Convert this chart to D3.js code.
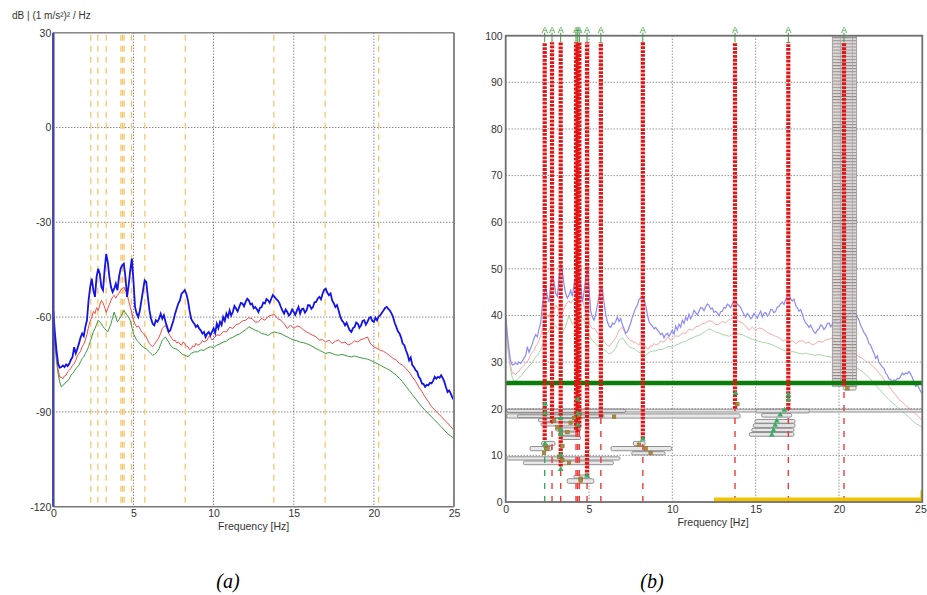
<!DOCTYPE html>
<html><head><meta charset="utf-8">
<script src="https://cdn.jsdelivr.net/npm/d3@7"></script>
<style>
body{margin:0;background:#fff;}
svg{display:block;font-family:"Liberation Sans",Arial,sans-serif;}
</style></head><body>
<svg id="c" width="927" height="595"></svg>
<script>
// ---- spectra: [frequency Hz, level dB] ----
const blueSpec = [[0,-58],[0.1,-65],[0.2,-70.5],[0.3,-74.7],[0.4,-76],[0.5,-75.8],[0.6,-75.3],[0.7,-75.8],[0.8,-75],[0.9,-75.5],[1.0,-74.7],[1.1,-73.5],[1.2,-72.6],[1.3,-69.5],[1.4,-71.5],[1.5,-70],[1.6,-68.4],[1.7,-66.5],[1.8,-65.2],[1.9,-66],[2.0,-63.1],[2.1,-61],[2.2,-54.7],[2.3,-50.5],[2.4,-47.8],[2.5,-51.5],[2.6,-53.6],[2.7,-47.3],[2.8,-44.7],[2.9,-46.3],[3.0,-50.5],[3.1,-51.5],[3.2,-45.2],[3.3,-40],[3.4,-42.6],[3.5,-47.3],[3.6,-50.5],[3.7,-52.1],[3.8,-51],[3.9,-49.4],[4.0,-51.5],[4.1,-47.3],[4.2,-44.7],[4.3,-43.6],[4.4,-43.1],[4.5,-47.3],[4.6,-53.6],[4.7,-50],[4.8,-45.2],[4.9,-41.5],[5.0,-48.4],[5.1,-56.8],[5.2,-58.9],[5.3,-60],[5.4,-57.9],[5.5,-54.7],[5.6,-51.5],[5.7,-48.4],[5.8,-48.9],[5.9,-53.6],[6.0,-57.9],[6.1,-60.5],[6.2,-62.1],[6.3,-62.6],[6.4,-61],[6.5,-61.5],[6.6,-60.5],[6.7,-58.9],[6.8,-60.5],[6.9,-59.4],[7.0,-61.5],[7.1,-63.1],[7.2,-64.7],[7.3,-64.2],[7.4,-62.6],[7.5,-61],[7.6,-58.9],[7.7,-57.3],[7.8,-55.7],[7.9,-54.7],[8.0,-52.6],[8.1,-52.1],[8.2,-51.5],[8.3,-52.6],[8.4,-54.7],[8.5,-57.9],[8.6,-60.5],[8.7,-61.5],[8.8,-62.1],[8.9,-63.1],[9.0,-62.6],[9.1,-63.6],[9.2,-64.2],[9.3,-65.2],[9.4,-64.7],[9.5,-66.3],[9.6,-65.2],[9.7,-64.7],[9.8,-65.8],[9.9,-64.7],[10.0,-63.6],[10.1,-65],[10.2,-62.1],[10.3,-63.5],[10.4,-61.5],[10.5,-62.5],[10.6,-60],[10.7,-61.2],[10.8,-58.9],[10.9,-60],[11.0,-57.9],[11.1,-59.5],[11.2,-58.4],[11.3,-56.5],[11.4,-57.3],[11.5,-58.2],[11.6,-56.8],[11.7,-55.5],[11.8,-55.7],[11.9,-56.6],[12.0,-55.2],[12.1,-54.2],[12.2,-54.7],[12.3,-56],[12.4,-55.7],[12.5,-57.2],[12.6,-56.8],[12.7,-57.5],[12.8,-58.4],[12.9,-57],[13.0,-56.8],[13.1,-55.4],[13.2,-55.7],[13.3,-54.3],[13.4,-54.7],[13.5,-55.5],[13.6,-54.2],[13.7,-53],[13.8,-53.6],[13.9,-54.2],[14.0,-54.7],[14.1,-55.5],[14.2,-56.8],[14.3,-58],[14.4,-58.9],[14.5,-57.6],[14.6,-58.4],[14.7,-59.5],[14.8,-58.9],[14.9,-57.6],[15.0,-58.4],[15.1,-59.3],[15.2,-57.9],[15.3,-56.8],[15.4,-58.9],[15.5,-57.5],[15.6,-57.3],[15.7,-58.6],[15.8,-57.9],[15.9,-56.2],[16.0,-56.3],[16.1,-57.4],[16.2,-56.8],[16.3,-55.3],[16.4,-55.2],[16.5,-54.1],[16.6,-53.6],[16.7,-54.4],[16.8,-52.6],[16.9,-51.4],[17.0,-51],[17.1,-52.3],[17.2,-53.1],[17.3,-52.5],[17.4,-54.7],[17.5,-55.6],[17.6,-56.8],[17.7,-56.2],[17.8,-57.9],[17.9,-59.8],[18.0,-61],[18.1,-61.6],[18.2,-62.6],[18.3,-61.8],[18.4,-63.1],[18.5,-64.2],[18.6,-64.7],[18.7,-63.5],[18.8,-63.1],[18.9,-61.7],[19.0,-62.1],[19.1,-63.4],[19.2,-62.6],[19.3,-61.2],[19.4,-61],[19.5,-62.4],[19.6,-61.5],[19.7,-60.3],[19.8,-60],[19.9,-61.2],[20.0,-61.5],[20.1,-60.2],[20.2,-61],[20.3,-59.8],[20.4,-59.4],[20.5,-58.6],[20.6,-57.9],[20.7,-57.1],[20.8,-56.8],[20.9,-57.4],[21.0,-57.9],[21.1,-58.8],[21.2,-60],[21.3,-61.8],[21.4,-63.1],[21.5,-64.5],[21.6,-65.2],[21.7,-66.5],[21.8,-68.4],[21.9,-68.9],[22.0,-70.5],[22.1,-71.8],[22.2,-73.7],[22.3,-72.8],[22.4,-75.2],[22.5,-75.8],[22.6,-76.8],[22.7,-77.2],[22.8,-78.9],[22.9,-79.6],[23.0,-81],[23.1,-81.2],[23.2,-82.1],[23.3,-81.4],[23.4,-81.6],[23.5,-80.8],[23.6,-81],[23.7,-80.1],[23.8,-78.9],[23.9,-79.5],[24.0,-78.9],[24.1,-79.2],[24.2,-78.4],[24.3,-79.3],[24.4,-80.5],[24.5,-82.2],[24.6,-83.7],[24.7,-83.2],[24.8,-84.2],[24.9,-85.5],[25.0,-86.3]];

const redSpec = [[0,-60],[0.1,-67],[0.2,-72],[0.3,-76.5],[0.4,-79],[0.5,-79],[0.6,-79.5],[0.7,-78.6],[0.8,-78.4],[0.9,-77.3],[1.0,-76.8],[1.1,-76.2],[1.2,-75.2],[1.3,-74.8],[1.4,-73.7],[1.5,-72.3],[1.6,-71.5],[1.7,-70.8],[1.8,-69.4],[1.9,-68.6],[2.0,-67.3],[2.1,-65.5],[2.2,-63.1],[2.3,-61.3],[2.4,-60],[2.5,-58.2],[2.6,-58.9],[2.7,-57],[2.8,-57.9],[2.9,-56.2],[3.0,-54.7],[3.1,-55.5],[3.2,-56.8],[3.3,-58.5],[3.4,-57.3],[3.5,-56],[3.6,-54.7],[3.7,-53.6],[3.8,-53.1],[3.9,-54],[4.0,-53.1],[4.1,-52.4],[4.2,-51.5],[4.3,-51],[4.4,-50.5],[4.5,-51.4],[4.6,-52.6],[4.7,-54.8],[4.8,-56.8],[4.9,-58.6],[5.0,-61],[5.1,-62.2],[5.2,-63.1],[5.3,-62.8],[5.4,-63.6],[5.5,-64.6],[5.6,-65.2],[5.7,-65.6],[5.8,-66.3],[5.9,-67.5],[6.0,-68.4],[6.1,-69],[6.2,-69.4],[6.3,-68.7],[6.4,-67.9],[6.5,-67.2],[6.6,-66.3],[6.7,-65.1],[6.8,-63.6],[6.9,-63],[7.0,-62.6],[7.1,-63.8],[7.2,-65.2],[7.3,-66],[7.4,-66.8],[7.5,-67.5],[7.6,-67.3],[7.7,-68.2],[7.8,-67.9],[7.9,-68.5],[8.0,-68.9],[8.1,-67.8],[8.2,-68.4],[8.3,-69.2],[8.4,-69.4],[8.5,-70.3],[8.6,-70],[8.7,-69.1],[8.8,-69.4],[8.9,-68.3],[9.0,-68.9],[9.2,-68.4],[9.3,-67.4],[9.4,-67.9],[9.6,-67.3],[9.7,-66.1],[9.8,-66.3],[9.9,-67.2],[10.0,-66.8],[10.2,-65.6],[10.4,-65.8],[10.6,-64.6],[10.8,-64.7],[11.0,-63.2],[11.2,-63.6],[11.4,-62.4],[11.6,-62.1],[11.8,-61.2],[12.0,-61],[12.2,-60.2],[12.4,-60.5],[12.6,-61.6],[12.8,-61.5],[13.0,-60.4],[13.2,-61],[13.4,-59.8],[13.6,-59.4],[13.8,-59.2],[14.0,-60.5],[14.2,-61],[14.4,-62.1],[14.6,-63.6],[14.8,-62.5],[15.0,-63.6],[15.2,-62.8],[15.4,-63.1],[15.6,-64],[15.8,-64.7],[16.0,-65.2],[16.2,-65.8],[16.4,-66.2],[16.6,-67.3],[16.8,-67.1],[17.0,-67.9],[17.2,-67.3],[17.4,-68.4],[17.6,-67.6],[17.8,-67.3],[18.0,-68.2],[18.2,-67.9],[18.4,-68.8],[18.6,-68.4],[18.8,-67.5],[19.0,-67.9],[19.2,-67.1],[19.4,-66.8],[19.6,-66.3],[19.8,-68.5],[20.0,-69.4],[20.2,-69.9],[20.4,-70.5],[20.6,-70.8],[20.8,-71.5],[21.0,-72.2],[21.2,-73.1],[21.4,-73.6],[21.6,-74.7],[21.8,-75.2],[22.0,-76.3],[22.2,-77.4],[22.4,-78.9],[22.6,-80.3],[22.8,-82.1],[23.0,-83.6],[23.2,-85.3],[23.4,-86.7],[23.6,-88.4],[23.8,-89.3],[24.0,-90.5],[24.2,-91.4],[24.4,-92.6],[24.6,-93.5],[24.8,-94.7],[25.0,-95.8]];

const greenSpec = [[0,-62],[0.1,-69],[0.2,-74],[0.3,-78],[0.4,-80.5],[0.5,-82.1],[0.6,-81.6],[0.7,-81.2],[0.8,-80.5],[0.9,-80.2],[1.0,-79.5],[1.1,-78.4],[1.2,-77.9],[1.3,-77.2],[1.4,-76.3],[1.5,-75.9],[1.6,-75.2],[1.7,-74.1],[1.8,-73.1],[1.9,-72.6],[2.0,-71.5],[2.1,-70.6],[2.2,-69.4],[2.3,-67.8],[2.4,-66.3],[2.5,-64.6],[2.6,-63.6],[2.7,-62.3],[2.8,-61],[2.9,-61.5],[3.0,-62.1],[3.1,-63],[3.2,-63.6],[3.3,-64.2],[3.4,-64.7],[3.5,-63.4],[3.6,-62.1],[3.7,-60.2],[3.8,-58.4],[3.9,-60.1],[4.0,-61.5],[4.1,-60.8],[4.2,-60],[4.3,-58.9],[4.4,-57.9],[4.5,-58.6],[4.6,-59.4],[4.7,-60.1],[4.8,-61],[4.9,-63.2],[5.0,-65.2],[5.1,-66.3],[5.2,-67.3],[5.3,-67.8],[5.4,-68.4],[5.5,-69.1],[5.6,-69.4],[5.7,-69.8],[5.8,-70],[5.9,-70.6],[6.0,-71],[6.1,-71.6],[6.2,-72.1],[6.3,-71.8],[6.4,-71.5],[6.5,-70.8],[6.6,-70],[6.7,-68.6],[6.8,-67.3],[6.9,-66.8],[7.0,-66.3],[7.1,-67.1],[7.2,-67.9],[7.3,-68.8],[7.4,-69.4],[7.5,-69.8],[7.6,-70],[7.7,-70.2],[7.8,-70.5],[7.9,-71.1],[8.0,-71.5],[8.1,-71.9],[8.2,-72.1],[8.3,-72.3],[8.4,-72.6],[8.5,-72],[8.6,-71.5],[8.8,-71],[9.0,-71],[9.2,-70.4],[9.4,-70.5],[9.6,-69.8],[9.8,-69.4],[10.0,-69.6],[10.2,-68.9],[10.4,-68.5],[10.6,-67.9],[10.8,-67.6],[11.0,-66.8],[11.2,-66.4],[11.4,-65.8],[11.6,-65.4],[11.8,-64.7],[12.0,-64],[12.2,-63.1],[12.4,-63.6],[12.6,-64.2],[12.8,-64.5],[13.0,-65.2],[13.2,-65.4],[13.4,-65.8],[13.6,-65.1],[13.8,-64.7],[14.0,-65],[14.2,-65.2],[14.4,-65.8],[14.6,-66.3],[14.8,-66.8],[15.0,-67.3],[15.2,-67.5],[15.4,-67.9],[15.6,-68.1],[15.8,-68.4],[16.0,-68.8],[16.2,-69.4],[16.4,-70],[16.6,-70.5],[16.8,-71],[17.0,-71.5],[17.2,-71.2],[17.4,-71.5],[17.6,-71.9],[17.8,-72.1],[18.0,-71.8],[18.2,-72.1],[18.4,-72.4],[18.6,-72.6],[18.8,-72.3],[19.0,-72.6],[19.2,-72.9],[19.4,-73.1],[19.6,-73.3],[19.8,-73.7],[20.0,-74.2],[20.2,-74.7],[20.4,-75.2],[20.6,-75.8],[20.8,-76.3],[21.0,-76.8],[21.2,-77.6],[21.4,-78.4],[21.6,-79.4],[21.8,-80.5],[22.0,-81.9],[22.2,-83.2],[22.4,-84.5],[22.6,-85.8],[22.8,-87.2],[23.0,-88.4],[23.2,-89.5],[23.4,-90.5],[23.6,-91.6],[23.8,-92.6],[24.0,-93.7],[24.2,-94.7],[24.4,-95.8],[24.6,-96.9],[24.8,-97.6],[25.0,-98.4]];

// ---- tick labels ----
const freqTicks = [0, 5, 10, 15, 20, 25];
const dbTicks = [30, 0, -30, -60, -90, -120];
const pctTicks = [0, 10, 20, 30, 40, 50, 60, 70, 80, 90, 100];

// ---- detected peaks: frequency and lowest level of the event trace ----
const peakFreqs = [2.34, 2.78, 3.3, 4.22, 4.32, 4.42, 4.88, 5.71, 8.23, 13.76, 16.96, 20.3];
const peakLows  = [13.3, 17, 7.6, 15.5, 15, 16, 5.5, 18.2, 13.5, 20, 19.8, 25];
const threshold = 25.5;              // acceptance level
const baseRange = [12.5, 25];        // frequency band along the baseline

// tracked clusters [f0, f1, lower, upper]
const clusterBars = [
  [0.05, 25, 19.3, 19.9], [0.05, 7.2, 19.2, 19.9], [0.06, 14.07, 18.0, 18.9], [0.7, 5.9, 18.1, 18.7],
  [1.96, 4.46, 17.2, 17.9], [2.12, 4.26, 16.3, 17.0], [3.0, 4.5, 15.2, 15.9], [3.2, 4.3, 14.3, 15.0],
  [3.3, 4.5, 13.4, 14.1], [2.16, 2.96, 12.1, 13.0], [1.46, 2.76, 11.0, 11.9], [6.32, 9.96, 11.0, 11.9],
  [7.66, 8.36, 12.1, 13.0], [7.56, 9.56, 10.1, 10.8], [0.06, 6.86, 9.0, 9.7], [1.06, 6.46, 8.0, 8.8],
  [3.69, 5.29, 4.0, 5.0], [4.09, 4.99, 5.1, 5.8],
  [15.02, 18.22, 19.1, 19.9], [15.36, 17.16, 18.2, 19.0], [14.96, 17.36, 16.9, 17.7],
  [14.86, 17.36, 16.0, 16.8], [14.76, 17.3, 15.1, 15.8], [14.62, 17.3, 14.1, 14.9],
  [20.26, 21.03, 24.0, 24.8]
];
const stackBlock = [19.6, 21.06, 24.8, 100];

// markers [f, level]
const greenMarks = [[2.36,21],[2.36,19],[2.36,12.5],[3.3,18],[3.3,15.5],[3.3,14.5],[3.3,10],[3.3,7],
  [4.32,22],[4.32,19],[4.32,16.5],[4.88,5.6],[8.23,13.5],[13.8,23.3],[16.96,23],[16.96,22],
  [15.97,14.4],[16.07,15.4],[16.17,16.5],[16.27,17.4],[16.47,18.7],[16.73,19.7]];
const brownMarks = [[2.4,12],[2.5,11.4],[2.9,17.5],[3.1,16],[3.4,12],[3.7,15],[3.9,17],[4.1,18],
  [4.4,18.6],[6.5,18.3],[3.4,9.0],[3.8,8.4],[4.5,5],[4.5,4.6],[8.0,12.3],[8.4,11.5],[8.7,10.5],
  [13.9,21],[20.5,24.4],[2.3,10.5],[3.2,9.7]];

const svg = d3.select("#c");

// ---------------- panel (a) ----------------
const xL = d3.scaleLinear([0, 25], [53.3, 454]);
const yL = d3.scaleLinear([-120, 30], [506.7, 32.7]);

svg.append("clipPath").attr("id", "clipA").append("rect")
  .attr("x", xL(0)).attr("y", yL(30)).attr("width", xL(25) - xL(0)).attr("height", yL(-120) - yL(30));

const gA = svg.append("g");
// grid
gA.selectAll(".gx").data(freqTicks.slice(1, -1)).join("line")
  .attr("x1", d => xL(d)).attr("x2", d => xL(d)).attr("y1", yL(30)).attr("y2", yL(-120))
  .attr("stroke", "#555").attr("stroke-dasharray", "1,2");
gA.selectAll(".gy").data(dbTicks.slice(0, -1)).join("line")
  .attr("x1", xL(0)).attr("x2", xL(25)).attr("y1", d => yL(d)).attr("y2", d => yL(d))
  .attr("stroke", "#555").attr("stroke-dasharray", "1,2");
// peak markers
gA.selectAll(".pk").data(peakFreqs).join("line")
  .attr("x1", d => xL(d)).attr("x2", d => xL(d)).attr("y1", yL(30) + 2).attr("y2", yL(-120))
  .attr("stroke", "#f6c264").attr("stroke-width", 1.2).attr("stroke-dasharray", "6,5");

const lineA = d3.line().x(d => xL(d[0])).y(d => yL(d[1]));
const curvesA = gA.append("g").attr("clip-path", "url(#clipA)");
curvesA.append("path").attr("d", lineA(greenSpec)).attr("fill", "none").attr("stroke", "#3c9a3c").attr("stroke-width", 1);
curvesA.append("path").attr("d", lineA(redSpec)).attr("fill", "none").attr("stroke", "#f04848").attr("stroke-width", 1);
curvesA.append("path").attr("d", lineA(blueSpec)).attr("fill", "none").attr("stroke", "#1414e6").attr("stroke-width", 1.8);

// frame
gA.append("line").attr("x1", xL(0)).attr("x2", xL(25)).attr("y1", yL(30)).attr("y2", yL(30)).attr("stroke", "#888").attr("stroke-width", 1.5);
gA.append("line").attr("x1", xL(0)).attr("x2", xL(25)).attr("y1", yL(-120)).attr("y2", yL(-120)).attr("stroke", "#777").attr("stroke-width", 1.5);
gA.append("line").attr("x1", xL(25)).attr("x2", xL(25)).attr("y1", yL(30)).attr("y2", yL(-120)).attr("stroke", "#888").attr("stroke-width", 2);
gA.append("line").attr("x1", xL(0)).attr("x2", xL(0)).attr("y1", yL(30)).attr("y2", yL(-120)).attr("stroke", "#4646a6").attr("stroke-width", 2.5);

// axes
const axYA = gA.append("g").attr("transform", `translate(${xL(0)},0)`)
  .call(d3.axisLeft(yL).tickValues(dbTicks).tickSize(0).tickPadding(2).tickFormat(d3.format("d")));
const axXA = gA.append("g").attr("transform", `translate(0,${yL(-120)})`)
  .call(d3.axisBottom(xL).tickValues(freqTicks).tickSize(0).tickPadding(3));
[axYA, axXA].forEach(a => { a.select(".domain").remove(); a.selectAll("text").attr("font-size", 10.5).attr("fill", "#333").attr("font-family", "Liberation Sans, Arial, sans-serif"); });
axYA.selectAll("text").text(d => d < 0 ? "-" + Math.abs(d) : d);

gA.append("text").attr("x", 12).attr("y", 19).attr("font-size", 10).attr("fill", "#333").text("dB | (1 m/s²)² / Hz");
gA.append("text").attr("x", (xL(0) + xL(25)) / 2).attr("y", 530).attr("text-anchor", "middle").attr("font-size", 10.5).attr("fill", "#333").text("Frequency [Hz]");

// ---------------- panel (b) ----------------
const xR = d3.scaleLinear([0, 25], [505.7, 922.3]);
const yR = d3.scaleLinear([0, 100], [502, 35.7]);
// spectra shown on the percentage axis
const yRdB = d3.scaleLinear([-120, 30], [yR(3), yR(93)]);

svg.append("clipPath").attr("id", "clipB").append("rect")
  .attr("x", xR(0)).attr("y", yR(100)).attr("width", xR(25) - xR(0)).attr("height", yR(0) - yR(100));

const defs = svg.append("defs");
const pat = defs.append("pattern").attr("id", "stack").attr("patternUnits", "userSpaceOnUse")
  .attr("width", 12).attr("height", 3.1);
pat.append("rect").attr("width", 12).attr("height", 3.1).attr("fill", "#d9d3d3");
pat.append("line").attr("x1", 0).attr("x2", 12).attr("y1", 0.5).attr("y2", 0.5).attr("stroke", "#7a7272").attr("stroke-width", 0.9);
pat.append("line").attr("x1", 0.5).attr("x2", 0.5).attr("y1", 0).attr("y2", 3.1).attr("stroke", "#9a9090").attr("stroke-width", 0.6);

const gB = svg.append("g");
gB.selectAll(".gx").data(freqTicks.slice(1, -1)).join("line")
  .attr("x1", d => xR(d)).attr("x2", d => xR(d)).attr("y1", yR(100)).attr("y2", yR(0))
  .attr("stroke", "#666").attr("stroke-dasharray", "1,2");
gB.selectAll(".gy").data(pctTicks.slice(1)).join("line")
  .attr("x1", xR(0)).attr("x2", xR(25)).attr("y1", d => yR(d)).attr("y2", d => yR(d))
  .attr("stroke", "#666").attr("stroke-dasharray", "1,2");

const lineB = d3.line().x(d => xR(d[0])).y(d => yRdB(d[1]));
const curvesB = gB.append("g").attr("clip-path", "url(#clipB)");
curvesB.append("path").attr("d", lineB(greenSpec)).attr("fill", "none").attr("stroke", "#a8d6a8").attr("stroke-width", 1);
curvesB.append("path").attr("d", lineB(redSpec)).attr("fill", "none").attr("stroke", "#f7aaa6").attr("stroke-width", 1);
curvesB.append("path").attr("d", lineB(blueSpec)).attr("fill", "none").attr("stroke", "#8c8cf6").attr("stroke-width", 1.2);

// stacked block
gB.append("rect").attr("x", xR(stackBlock[0])).attr("width", xR(stackBlock[1]) - xR(stackBlock[0]))
  .attr("y", yR(stackBlock[3])).attr("height", yR(stackBlock[2]) - yR(stackBlock[3]))
  .attr("fill", "url(#stack)").attr("opacity", 0.85).attr("stroke", "#8a8080").attr("stroke-width", 0.8);

// cluster bars
gB.selectAll(".bar").data(clusterBars).join("rect")
  .attr("x", d => xR(d[0])).attr("width", d => xR(d[1]) - xR(d[0]))
  .attr("y", d => yR(d[3])).attr("height", d => yR(d[2]) - yR(d[3]))
  .attr("rx", 1.5).attr("fill", "#e2e0e0").attr("fill-opacity", 0.75)
  .attr("stroke", "#858585").attr("stroke-width", 0.9);

// threshold
gB.append("line").attr("x1", xR(0)).attr("x2", xR(25)).attr("y1", yR(threshold)).attr("y2", yR(threshold))
  .attr("stroke", "#0a7d0a").attr("stroke-width", 4.5);

// peak traces: dashed below, dotted chain above
const pk = peakFreqs.map((f, i) => ({ f, low: peakLows[i], i }));
gB.selectAll(".pkd").data(pk).join("line")
  .attr("x1", d => xR(d.f)).attr("x2", d => xR(d.f)).attr("y1", yR(0)).attr("y2", d => yR(d.low))
  .attr("stroke", d => d.i === 0 ? "#36a860" : "#f03838").attr("stroke-width", 1.4).attr("stroke-dasharray", "6,7");
gB.selectAll(".pkc").data(pk).join("line")
  .attr("x1", d => xR(d.f)).attr("x2", d => xR(d.f)).attr("y1", d => yR(d.low)).attr("y2", yR(98.6))
  .attr("stroke", "#e41414").attr("stroke-width", 4.2).attr("stroke-dasharray", "2.8,1.1");
gB.selectAll(".pkt").data(pk).join("line")
  .attr("x1", d => xR(d.f)).attr("x2", d => xR(d.f)).attr("y1", yR(98.6)).attr("y2", yR(100) - 3)
  .attr("stroke", "#3c9c3c").attr("stroke-width", 1);
gB.selectAll(".pka").data(pk).join("text")
  .attr("x", d => xR(d.f)).attr("y", 32.5).attr("text-anchor", "middle")
  .attr("font-size", 9).attr("fill", "#3a9a3a").text("A");

// markers
gB.selectAll(".bm").data(brownMarks).join("rect")
  .attr("x", d => xR(d[0]) - 1.8).attr("y", d => yR(d[1]) - 1.8).attr("width", 3.6).attr("height", 3.6)
  .attr("fill", "#b0883a").attr("stroke", "#8a6a2a").attr("stroke-width", 0.5);
gB.selectAll(".gm").data(greenMarks).join("path")
  .attr("transform", d => `translate(${xR(d[0])},${yR(d[1])})`)
  .attr("d", d3.symbol(d3.symbolTriangle, 14)).attr("fill", "#30b060");

// baseline band
gB.append("line").attr("x1", xR(baseRange[0])).attr("x2", xR(baseRange[1]))
  .attr("y1", yR(0) - 2.5).attr("y2", yR(0) - 2.5).attr("stroke", "#f2c400").attr("stroke-width", 4);
gB.append("line").attr("x1", xR(baseRange[1]) - 1).attr("x2", xR(baseRange[1]) - 1)
  .attr("y1", yR(0)).attr("y2", yR(2.5)).attr("stroke", "#f2c400").attr("stroke-width", 2);

// frame
gB.append("rect").attr("x", xR(0)).attr("y", yR(100)).attr("width", xR(25) - xR(0)).attr("height", yR(0) - yR(100))
  .attr("fill", "none").attr("stroke", "#6e6e6e").attr("stroke-width", 1.8);

const axYB = gB.append("g").attr("transform", `translate(${xR(0)},0)`)
  .call(d3.axisLeft(yR).tickValues(pctTicks).tickSize(0).tickPadding(3));
const axXB = gB.append("g").attr("transform", `translate(0,${yR(0)})`)
  .call(d3.axisBottom(xR).tickValues(freqTicks).tickSize(0).tickPadding(4));
[axYB, axXB].forEach(a => { a.select(".domain").remove(); a.selectAll("text").attr("font-size", 10.5).attr("fill", "#333").attr("font-family", "Liberation Sans, Arial, sans-serif"); });
// keep the last frequency label inside the page
axXB.selectAll("text").filter(d => d === 25).attr("text-anchor", "end").attr("dx", 4);

gB.append("text").attr("x", 713).attr("y", 526).attr("text-anchor", "middle").attr("font-size", 10.5).attr("fill", "#333").text("Frequency [Hz]");

// captions
svg.append("text").attr("x", 228).attr("y", 588).attr("text-anchor", "middle")
  .attr("font-family", "Liberation Serif, Times New Roman, serif").attr("font-style", "italic").attr("font-size", 20).text("(a)");
svg.append("text").attr("x", 652).attr("y", 588).attr("text-anchor", "middle")
  .attr("font-family", "Liberation Serif, Times New Roman, serif").attr("font-style", "italic").attr("font-size", 20).text("(b)");
</script>
</body></html>
